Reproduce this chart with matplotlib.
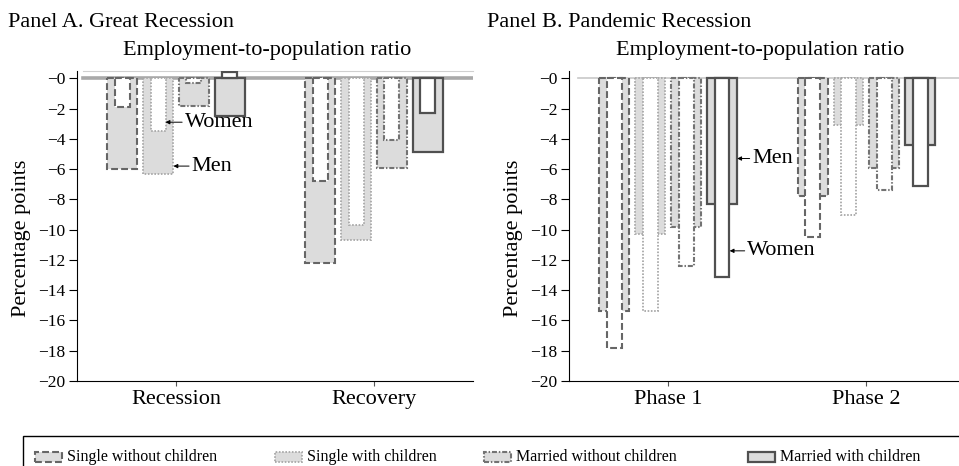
import numpy as np
import matplotlib.pyplot as plt
from matplotlib.patches import Rectangle

plt.rcParams['font.family'] = ['Liberation Serif', 'DejaVu Serif']

family_types = ["Single without children", "Single with children",
                "Married without children", "Married with children"]

# change in employment-to-population ratio, percentage points
# rows are periods, columns follow family_types
great_periods = ["Recession", "Recovery"]
great_men = [[-6.0, -6.3, -1.8, -2.5],
             [-12.2, -10.7, -5.9, -4.9]]
great_women = [[-1.9, -3.5, -0.3, 0.4],
               [-6.8, -9.7, -4.1, -2.3]]

pandemic_periods = ["Phase 1", "Phase 2"]
pandemic_men = [[-15.4, -10.3, -9.8, -8.3],
                [-7.8, -3.1, -5.9, -4.4]]
pandemic_women = [[-17.8, -15.4, -12.4, -13.1],
                  [-10.5, -9.0, -7.4, -7.1]]

yticks = np.arange(0, -21, -2)
ytick_labels = ["\u2212%d" % abs(t) for t in yticks]

# one edge style per family type
edge_colors = ['#666666', '#a8a8a8', '#737373', '#505050']
edge_styles = [(0, (3.3, 1.5)), (0, (0.9, 0.9)), (0, (2.4, 0.9, 0.7, 0.9)), '-']
edge_widths = [1.5, 1.3, 1.5, 1.6]
fill = '#dcdcdc'

step = 0.181
wide = 0.151
narrow = 0.075
offsets = (np.arange(4) - 1.5) * step

W, H = 959, 466
fig = plt.figure(figsize=(W / 100, H / 100), dpi=100)


def px_axes(left, right, top, bottom):
    return fig.add_axes([left / W, 1 - bottom / H, (right - left) / W, (bottom - top) / H])


def draw_panel(ax, periods, men, women):
    men = np.array(men)
    women = np.array(women)
    x = np.arange(len(periods))
    for k in range(4):
        style = dict(edgecolor=edge_colors[k], linestyle=edge_styles[k],
                     linewidth=edge_widths[k])
        ax.bar(x + offsets[k], men[:, k], wide, color=fill, zorder=2, **style)
        ax.bar(x + offsets[k], women[:, k], narrow, color='white', zorder=3, **style)
    ax.set_xticks(x)
    ax.set_xticklabels(periods, fontsize=16)
    ax.set_xlim(-0.5, 1.5)
    ax.set_ylim(-20, 0.45)
    ax.set_yticks(yticks)
    ax.set_yticklabels(ytick_labels, fontsize=12.5)
    ax.tick_params(axis='y', length=6, width=0.8, pad=2.5)
    ax.tick_params(axis='x', length=3.5, width=0.8, color='#555555', pad=3)
    ax.spines['right'].set_visible(False)
    ax.spines['top'].set_visible(False)
    ax.set_ylabel("Percentage points", fontsize=16)
    ax.yaxis.set_label_coords(-0.117, 0.462)


axA = px_axes(77, 473, 71.5, 381)
draw_panel(axA, great_periods, great_men, great_women)
axA.axhline(0, xmin=0.014, color='#a9a9a9', lw=2.6, zorder=1)
axA.spines['top'].set_visible(True)
axA.spines['top'].set_color('#d0d0d0')
axA.spines['top'].set_bounds(-0.47, 1.5)

axB = px_axes(569, 965.6, 71.5, 381)
draw_panel(axB, pandemic_periods, pandemic_men, pandemic_women)
axB.axhline(0, xmin=0.023, color='#c8c8c8', lw=1.2, zorder=1)

arrow = dict(arrowstyle='-|>', color='black', lw=0.7, mutation_scale=6,
             shrinkA=0, shrinkB=0)
axA.annotate("Women", xy=(-0.053, -2.9), xytext=(0.045, -2.9), fontsize=16,
             va='center', ha='left', arrowprops=arrow, zorder=5)
axA.annotate("Men", xy=(-0.013, -5.8), xytext=(0.08, -5.8), fontsize=16,
             va='center', ha='left', arrowprops=arrow, zorder=5)
axB.annotate("Men", xy=(0.348, -5.3), xytext=(0.425, -5.3), fontsize=16,
             va='center', ha='left', arrowprops=arrow, zorder=5)
axB.annotate("Women", xy=(0.31, -11.4), xytext=(0.40, -11.4), fontsize=16,
             va='center', ha='left', arrowprops=arrow, zorder=5)

# panel headings
fig.text(8 / W, 1 - 27 / H, "Panel A. Great Recession", fontsize=16, va='baseline')
fig.text(487 / W, 1 - 27 / H, "Panel B. Pandemic Recession", fontsize=16, va='baseline')
fig.text(267 / W, 1 - 55 / H, "Employment-to-population ratio", fontsize=16,
         ha='center', va='baseline')
fig.text(760 / W, 1 - 55 / H, "Employment-to-population ratio", fontsize=16,
         ha='center', va='baseline')

# legend box along the bottom
fig.patches.append(Rectangle((23 / W, 1 - 476 / H), 960 / W, 40 / H, fill=False,
                             edgecolor='black', lw=1, transform=fig.transFigure))
handle_x = [35, 275, 484, 748]
for k, name in enumerate(family_types):
    fig.patches.append(Rectangle((handle_x[k] / W, 1 - 462 / H), 27 / W, 10 / H,
                                 facecolor=fill, edgecolor=edge_colors[k],
                                 linestyle=edge_styles[k], lw=edge_widths[k],
                                 transform=fig.transFigure))
    fig.text((handle_x[k] + 32) / W, 1 - 457 / H, name, fontsize=11.5, va='center')

fig.savefig("out.png", dpi=100)
